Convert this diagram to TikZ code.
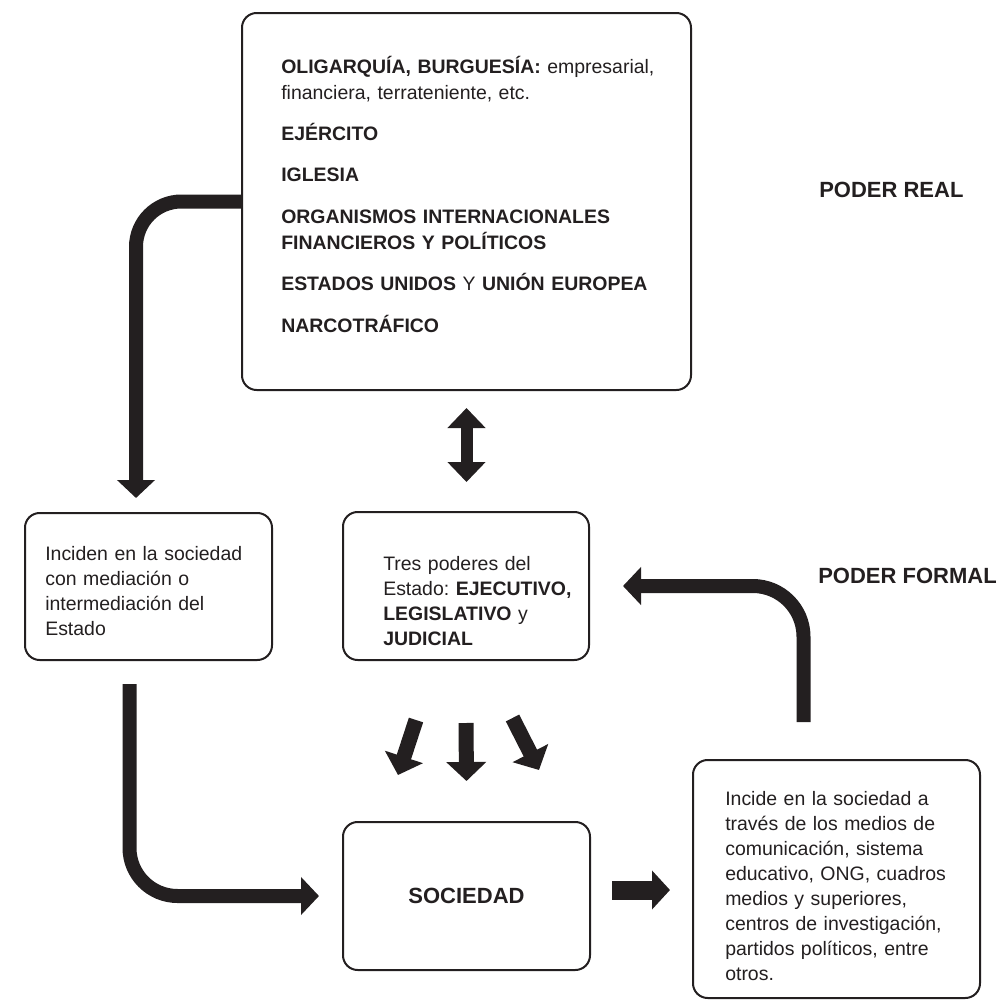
\documentclass[tikz,border=0pt]{standalone}
\usepackage{fontspec}
\setmainfont{Liberation Sans}
\usetikzlibrary{arrows.meta,calc}
\definecolor{ink}{RGB}{35,31,32}
\frenchspacing
\begin{document}
\begin{tikzpicture}[x=0.75pt,y=-0.75pt,
  box/.style={draw=ink, line width=1.5pt, rounded corners=11pt, inner sep=0pt, text=ink},
  body/.style={anchor=base west, inner sep=0pt, align=left, text=ink, font=\fontsize{14.6pt}{18.75pt}\selectfont},
  head/.style={anchor=base west, inner sep=0pt, text=ink, font=\fontsize{16.5pt}{19pt}\selectfont\bfseries},
  fat/.style={draw=ink, line width=10.5pt, -{Triangle[width=27.75pt,length=13.5pt]}},
  smallarr/.style={draw=ink, line width=11.25pt, -{Triangle[width=29.25pt,length=14.25pt]}}
]
\useasboundingbox (0,0) rectangle (1004,1003);

% boxes
\node[box, minimum width=336.75pt, minimum height=282.75pt] (top) at (466.5,201.5) {};
\node[box, minimum width=185.25pt, minimum height=110.25pt] (inc) at (148.5,586.5) {};
\node[box, minimum width=184.5pt, minimum height=111pt] (tres) at (466,586) {};
\node[box, minimum width=185.25pt, minimum height=111pt, font=\fontsize{16.5pt}{19pt}\selectfont\bfseries] (soc) at (466.5,896) {SOCIEDAD};
\node[box, minimum width=215.25pt, minimum height=178.5pt] (incide) at (836.5,879) {};

% texts
\node[body, text width=300pt, font=\fontsize{14.6pt}{19.5pt}\selectfont] (toptxt) at (281,73)
 {\textbf{OLIGARQUÍA, BURGUESÍA:} empresarial,\\
  financiera, terrateniente, etc.\\[11.6pt]
  \textbf{EJÉRCITO}\\[11.6pt]
  \textbf{IGLESIA}\\[11.6pt]
  \textbf{ORGANISMOS INTERNACIONALES}\\
  \textbf{FINANCIEROS Y POLÍTICOS}\\[11.6pt]
  \textbf{ESTADOS UNIDOS} Y \textbf{UNIÓN EUROPEA}\\[11.6pt]
  \textbf{NARCOTRÁFICO}};
\node[body, text width=180pt] (inctxt) at (45,560)
 {Inciden en la sociedad\\ con mediación o\\ intermediación del\\ Estado};
\node[body, text width=180pt] (trestxt) at (383,570)
 {Tres poderes del\\ Estado: \textbf{EJECUTIVO,}\\ \textbf{LEGISLATIVO} y\\ \textbf{JUDICIAL}};
\node[body, text width=200pt] (incidetxt) at (725,805)
 {Incide en la sociedad a\\ través de los medios de\\ comunicación, sistema\\ educativo, ONG, cuadros\\ medios y superiores,\\ centros de investigación,\\ partidos políticos, entre\\ otros.};
\node[head] (real) at (819,197) {PODER REAL};
\node[head] (formal) at (818,583) {PODER FORMAL};

% connectors
\draw[fat, rounded corners=34pt] (top.west) -| ($(inc.north)+(-12.5,-14)$);
\draw[draw=ink, line width=9pt, {Triangle[width=27.75pt,length=15pt]}-{Triangle[width=27.75pt,length=15pt]},
      shorten <=12.75pt, shorten >=21.75pt] (top.south) -- (top.south |- tres.north);
\draw[fat, rounded corners=36pt] ($(inc.south)+(-19,23)$) |- ($(soc.west)+(-23,0)$);
\draw[smallarr] ($(tres.south)+(-50,59)$) -- ($(soc.north)+(-68.5,-46)$);
\draw[smallarr] ($(tres.south)+(0,62)$) -- ($(soc.north)+(0,-40)$);
\draw[smallarr] ($(tres.south)+(46.5,57)$) -- ($(soc.north)+(72.5,-51)$);
\coordinate (s1) at ($(soc.east)+(21,-6)$);
\draw[draw=ink, line width=14.25pt, -{Triangle[width=28.5pt,length=13.5pt]}, shorten >=16.5pt] (s1) -- (s1 -| incide.west);
\draw[fat, rounded corners=38pt, shorten >=24.75pt] ($(incide.north)+(-33,-37)$) |- (tres.east);
\end{tikzpicture}
\end{document}
